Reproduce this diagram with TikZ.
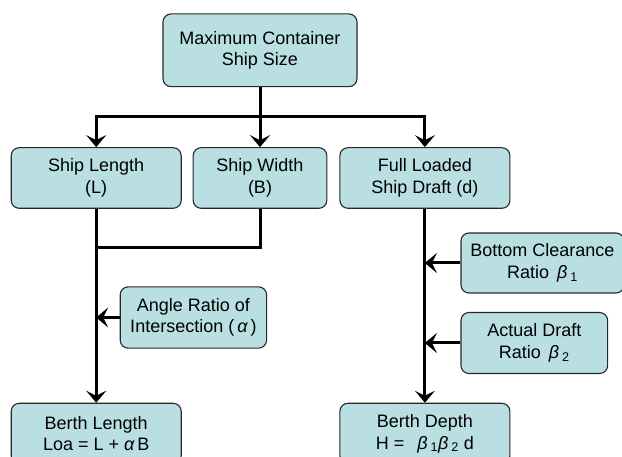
\documentclass[tikz,border=0pt]{standalone}
\usepackage{fontspec}
\setmainfont{Liberation Sans}
\usetikzlibrary{arrows.meta}
\definecolor{boxfill}{RGB}{185,223,227}
\definecolor{boxline}{RGB}{40,40,40}

\begin{document}
\begin{tikzpicture}[x=1pt,y=-1pt,
    box/.style={draw=boxline,line width=1.1pt,fill=boxfill,rounded corners=8pt,
      align=center,inner sep=0pt,font=\fontsize{18}{21.5}\selectfont},
    link/.style={line width=3pt},
    arr/.style={link,-{Stealth[length=12pt,width=20pt,inset=5pt]}}]
  \def\RowH{60.6}
  \def\WideW{170}
  \useasboundingbox (0,0) rectangle (622,457);
  \clip (0,0) rectangle (622,457);

  % boxes
  \node[box,minimum width=194,minimum height=72.7] (top) at (260,50.3)
    {Maximum Container\\Ship Size};
  \node[box,minimum width=\WideW,minimum height=\RowH] (len) at (96.2,178)
    {Ship Length\\(L)};
  \node[box,minimum width=133.7,minimum height=\RowH] (wid) at (260,178)
    {Ship Width\\(B)};
  \node[box,minimum width=\WideW,minimum height=\RowH] (draft) at (424.9,178)
    {Full Loaded\\Ship Draft (d)};
  \node[box,minimum width=146.4,minimum height=61.3] (angle) at (193.4,317.5)
    {Angle Ratio of\\Intersection (\,{\itshape α}\,)};
  \node[box,minimum width=163,minimum height=60] (clear) at (542.5,263)
    {Bottom Clearance\\Ratio \,{\itshape β}\,\textsubscript{1}};
  \node[box,minimum width=146.7,minimum height=61] (actual) at (534.3,343)
    {Actual Draft\\Ratio \,{\itshape β}\,\textsubscript{2}};
  \node[box,minimum width=\WideW,minimum height=\RowH] (berthL) at (96.2,433.6)
    {Berth Length\\Loa = L + {\itshape α}\,B};
  \node[box,minimum width=\WideW,minimum height=\RowH] (berthD) at (424.9,433.6)
    {Berth Depth\\H = \ \,{\itshape β}\,\textsubscript{1}{\itshape β}\,\textsubscript{2} d};

  \coordinate (split) at (260,116.7);
  \coordinate (join) at (96.2,247.3);

  % connectors
  \draw[link] (top.south) -- (split);
  \draw[arr] (split) -| (len.north);
  \draw[arr] (split) -- (wid.north);
  \draw[arr] (split) -| (draft.north);
  \draw[link] (wid.south) |- (join);
  \draw[arr] (len.south) -- (berthL.north);
  \draw[arr] (angle.west) -- (angle.west -| len.south);
  \draw[arr] (draft.south) -- (berthD.north);
  \draw[arr] (clear.west) -- (clear.west -| draft.south);
  \draw[arr] (actual.west) -- (actual.west -| draft.south);
\end{tikzpicture}
\end{document}
